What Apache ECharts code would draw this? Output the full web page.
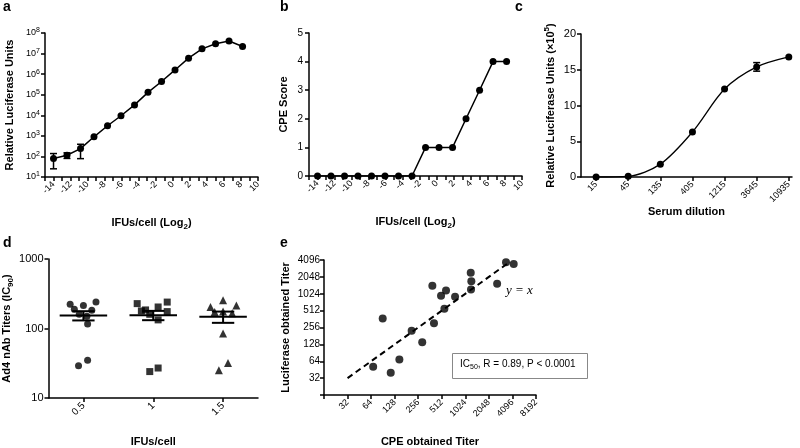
<!DOCTYPE html>
<html>
<head>
<meta charset="utf-8">
<script src="https://cdn.jsdelivr.net/npm/echarts@6/dist/echarts.min.js"></script>
<style>
  html, body { margin: 0; background: #fff; }
  #chart { width: 800px; height: 448px; }
</style>
</head>
<body>
<div id="chart"></div>
<script>
// a, b: IFUs/cell (log2), 3-fold dilution steps
const ifuLog2 = [-14, -12.42, -10.83, -9.25, -7.66, -6.08, -4.49, -2.91, -1.32, 0.26, 1.85, 3.43, 5.02, 6.60, 8.19];
const lucUnits = [80, 114, 240, 900, 3100, 9500, 32000, 130000, 440000, 1.6e6, 6e6, 1.7e7, 3e7, 4.1e7, 2.2e7];
const lucErrLow = [25, 80, 78];
const lucErrHigh = [138, 150, 390];
const cpeScore = [0, 0, 0, 0, 0, 0, 0, 0, 1, 1, 1, 2, 3, 4, 4];

// c: serum dilution
const dilutionLabels = ['15', '45', '135', '405', '1215', '3645', '10935'];
const serumLuc = [0, 0.1, 1.8, 6.3, 12.3, 15.4, 16.8];
const serumErr = [0, 0, 0, 0, 0, 0.6, 0];

// d: nAb titers per IFUs/cell group (x = group index + jitter)
const ifuGroups = ['0.5', '1', '1.5'];
const titer05 = [223, 189, 215, 240, 183, 160, 150, 116, 29, 35];
const jitter05 = [-0.19, -0.13, 0.0, 0.18, 0.12, -0.06, 0.05, 0.06, -0.07, 0.06];
const titer1 = [228, 179, 185, 204, 240, 175, 160, 133, 24, 27];
const jitter1 = [-0.23, -0.17, -0.11, 0.07, 0.2, 0.2, -0.05, 0.07, -0.05, 0.07];
const titer15 = [204, 256, 215, 173, 166, 175, 85, 32, 25];
const jitter15 = [-0.18, 0.0, 0.19, -0.12, 0.13, 0.0, 0.0, 0.07, -0.06];

// e: CPE vs luciferase titers
const cpeTiter = [68, 90, 114, 147, 211, 288, 388, 407, 501, 553, 580, 757, 1200, 1222, 1210, 2610, 3390, 4250];
const lucTiter = [51, 371, 40, 69, 224, 139, 1424, 304, 946, 551, 1169, 909, 2418, 1711, 1215, 1540, 3718, 3490];
const identityExtent = [32, 3600];

const font = 'Liberation Sans';
const axisLine = { onZero: false, lineStyle: { color: '#000', width: 1.5 } };
const axisTick = { length: 4, lineStyle: { color: '#000', width: 1.5 } };
const lbl = { color: '#000', fontFamily: font, fontSize: 10 };
const nameStyle = { color: '#000', fontFamily: font, fontSize: 11, fontWeight: 'bold',
  rich: {
    sub: { fontFamily: font, fontSize: 8, fontWeight: 'bold', verticalAlign: 'bottom', lineHeight: 16 },
    sup: { fontFamily: font, fontSize: 8, fontWeight: 'bold', verticalAlign: 'top', lineHeight: 16 }
  }
};

const sem = (arr) => {
  const m = arr.reduce((s, v) => s + v, 0) / arr.length;
  const sd = Math.sqrt(arr.reduce((s, v) => s + (v - m) * (v - m), 0) / (arr.length - 1));
  return [m, sd / Math.sqrt(arr.length)];
};

function errorBar(cap) {
  return function (params, api) {
    const x = api.value(0);
    const lo = api.coord([x, api.value(1)]);
    const hi = api.coord([x, api.value(2)]);
    const st = { stroke: '#000', lineWidth: 1.5 };
    return { type: 'group', children: [
      { type: 'line', shape: { x1: lo[0], y1: lo[1], x2: hi[0], y2: hi[1] }, style: st },
      { type: 'line', shape: { x1: lo[0] - cap, y1: lo[1], x2: lo[0] + cap, y2: lo[1] }, style: st },
      { type: 'line', shape: { x1: hi[0] - cap, y1: hi[1], x2: hi[0] + cap, y2: hi[1] }, style: st }
    ] };
  };
}

// mean line (wide) + SEM whiskers (narrow), widths in axis units
function meanSem(params, api) {
  const x = api.value(0), m = api.value(1), lo = api.value(2), hi = api.value(3);
  const st = { stroke: '#000', lineWidth: 2 };
  const a = api.coord([x - 0.34, m]), b = api.coord([x + 0.34, m]);
  const c1 = api.coord([x - 0.16, lo]), c2 = api.coord([x + 0.16, lo]);
  const d1 = api.coord([x - 0.16, hi]), d2 = api.coord([x + 0.16, hi]);
  const v1 = api.coord([x, lo]), v2 = api.coord([x, hi]);
  return { type: 'group', children: [
    { type: 'line', shape: { x1: a[0], y1: a[1], x2: b[0], y2: b[1] }, style: st },
    { type: 'line', shape: { x1: c1[0], y1: c1[1], x2: c2[0], y2: c2[1] }, style: st },
    { type: 'line', shape: { x1: d1[0], y1: d1[1], x2: d2[0], y2: d2[1] }, style: st },
    { type: 'line', shape: { x1: v1[0], y1: v1[1], x2: v2[0], y2: v2[1] }, style: st }
  ] };
}

const dGroups = [[titer05, jitter05, 'circle'], [titer1, jitter1, 'rect'], [titer15, jitter15, 'triangle']];
const dStats = dGroups.map(([t], i) => { const [m, s] = sem(t); return [i, m, m - s, m + s]; });

const ifuAxis = (idx) => ({
  type: 'value', gridIndex: idx, min: -15, max: 10, interval: 1,
  axisLine, axisTick, splitLine: { show: false },
  axisLabel: Object.assign({}, lbl, { rotate: 45, fontSize: 9, margin: 6,
    formatter: (v) => (v % 2 === 0 ? String(v) : '') }),
  name: 'IFUs/cell (Log{sub|2})', nameLocation: 'middle', nameGap: 38, nameTextStyle: nameStyle
});

const chart = echarts.init(document.getElementById('chart'));
chart.setOption({
  backgroundColor: '#fff',
  animation: false,
  grid: [
    { left: 45, top: 33, width: 213, height: 144 },
    { left: 309, top: 33, width: 213, height: 143 },
    { left: 581, top: 34, width: 211, height: 143 },
    { left: 47, top: 259, width: 211, height: 141 },
    { left: 324, top: 260, width: 212, height: 141 }
  ],
  xAxis: [
    ifuAxis(0),
    ifuAxis(1),
    {
      type: 'value', gridIndex: 2, min: -0.47, max: 6.1,
      axisLine, splitLine: { show: false },
      axisTick: Object.assign({}, axisTick, { customValues: [0, 1, 2, 3, 4, 5, 6] }),
      axisLabel: Object.assign({}, lbl, { rotate: 45, fontSize: 9, margin: 6,
        customValues: [0, 1, 2, 3, 4, 5, 6], formatter: (v) => dilutionLabels[Math.round(v)] }),
      name: 'Serum dilution', nameLocation: 'middle', nameGap: 22, nameTextStyle: nameStyle
    },
    {
      type: 'value', gridIndex: 3, min: -0.5, max: 2.5,
      axisLine, splitLine: { show: false },
      axisTick: Object.assign({}, axisTick, { customValues: [0, 1, 2] }),
      axisLabel: Object.assign({}, lbl, { rotate: 45, fontSize: 10, margin: 6,
        customValues: [0, 1, 2], formatter: (v) => ifuGroups[Math.round(v)] }),
      name: 'IFUs/cell', nameLocation: 'middle', nameGap: 38, nameTextStyle: nameStyle
    },
    {
      type: 'log', logBase: 2, gridIndex: 4, min: 16, max: 8192,
      axisLine, axisTick, splitLine: { show: false }, minorTick: { show: false },
      axisLabel: Object.assign({}, lbl, { rotate: 45, fontSize: 9, margin: 6,
        formatter: (v) => (v < 20 ? '' : String(Math.round(v))) }),
      name: 'CPE obtained Titer', nameLocation: 'middle', nameGap: 41, nameTextStyle: nameStyle
    }
  ],
  yAxis: [
    {
      type: 'log', gridIndex: 0, min: 10, max: 1e8,
      axisLine, axisTick, splitLine: { show: false },
      axisLabel: Object.assign({}, lbl, { fontSize: 9, margin: 5, lineHeight: 12,
        formatter: (v) => '10{sup|' + Math.round(Math.log10(v)) + '}',
        rich: { sup: { fontFamily: font, fontSize: 7, verticalAlign: 'top', lineHeight: 12 } } }),
      name: 'Relative Luciferase Units', nameLocation: 'middle', nameGap: 30, nameTextStyle: nameStyle
    },
    {
      type: 'value', gridIndex: 1, min: 0, max: 5, interval: 1,
      axisLine, axisTick, splitLine: { show: false },
      axisLabel: Object.assign({}, lbl, { margin: 6 }),
      name: 'CPE Score', nameLocation: 'middle', nameGap: 20, nameTextStyle: nameStyle
    },
    {
      type: 'value', gridIndex: 2, min: 0, max: 20, interval: 5,
      axisLine, axisTick, splitLine: { show: false },
      axisLabel: Object.assign({}, lbl, { fontSize: 11, margin: 5 }),
      name: 'Relative Luciferase Units (×10{sup|5})', nameLocation: 'middle', nameGap: 22, nameTextStyle: nameStyle
    },
    {
      type: 'log', gridIndex: 3, min: 10, max: 1000,
      axisLine, axisTick, splitLine: { show: false },
      axisLabel: Object.assign({}, lbl, { fontSize: 11, margin: 5, formatter: (v) => String(Math.round(v)) }),
      name: 'Ad4 nAb Titers (IC{sub|90})', nameLocation: 'middle', nameGap: 34, nameTextStyle: nameStyle
    },
    {
      type: 'log', logBase: 2, gridIndex: 4, min: 16, max: 4096,
      axisLine, axisTick, splitLine: { show: false }, minorTick: { show: false },
      axisLabel: Object.assign({}, lbl, { fontSize: 10, margin: 4,
        formatter: (v) => (v < 20 ? '' : String(Math.round(v))) }),
      name: 'Luciferase obtained Titer', nameLocation: 'middle', nameGap: 33, nameTextStyle: nameStyle
    }
  ],
  series: [
    {
      type: 'line', xAxisIndex: 0, yAxisIndex: 0,
      data: ifuLog2.map((x, i) => [x, lucUnits[i]]),
      symbol: 'circle', symbolSize: 7, itemStyle: { color: '#000' },
      lineStyle: { color: '#000', width: 1.5 }, z: 3
    },
    {
      type: 'custom', xAxisIndex: 0, yAxisIndex: 0, renderItem: errorBar(3.5),
      data: lucErrLow.map((lo, i) => [ifuLog2[i], lo, lucErrHigh[i]]), z: 2
    },
    {
      type: 'line', xAxisIndex: 1, yAxisIndex: 1,
      data: ifuLog2.map((x, i) => [x, cpeScore[i]]),
      symbol: 'circle', symbolSize: 7, itemStyle: { color: '#000' },
      lineStyle: { color: '#000', width: 1.5 }, z: 3
    },
    {
      type: 'line', xAxisIndex: 2, yAxisIndex: 2,
      data: serumLuc.map((v, i) => [i, v]),
      smooth: 0.3,
      symbol: 'circle', symbolSize: 7, itemStyle: { color: '#000' },
      lineStyle: { color: '#000', width: 1.3 }, z: 3
    },
    {
      type: 'custom', xAxisIndex: 2, yAxisIndex: 2, renderItem: errorBar(3.5),
      data: serumLuc.map((v, i) => [i, v - serumErr[i], v + serumErr[i]]).filter((d, i) => serumErr[i] > 0)
    },
    ...dGroups.map(([t, j, sym], g) => ({
      type: 'scatter', xAxisIndex: 3, yAxisIndex: 3,
      data: t.map((v, i) => [g + j[i], v]),
      symbol: sym, symbolSize: sym === 'triangle' ? 8 : 7, itemStyle: { color: '#000' }
    })),
    {
      type: 'custom', xAxisIndex: 3, yAxisIndex: 3, renderItem: meanSem, data: dStats, z: 3
    },
    {
      type: 'line', xAxisIndex: 4, yAxisIndex: 4,
      data: [[identityExtent[0], identityExtent[0]], [identityExtent[1], identityExtent[1]]],
      symbol: 'none', lineStyle: { color: '#000', width: 2, type: [6, 4] }
    },
    {
      type: 'scatter', xAxisIndex: 4, yAxisIndex: 4,
      data: cpeTiter.map((x, i) => [x, lucTiter[i]]),
      symbol: 'circle', symbolSize: 8, itemStyle: { color: '#000' }
    }
  ],
  graphic: [
    { type: 'text', left: 3, top: 0, style: { text: 'a', font: 'bold 14px Liberation Sans', fill: '#000' } },
    { type: 'text', left: 280, top: 0, style: { text: 'b', font: 'bold 14px Liberation Sans', fill: '#000' } },
    { type: 'text', left: 515, top: 0, style: { text: 'c', font: 'bold 14px Liberation Sans', fill: '#000' } },
    { type: 'text', left: 3, top: 236, style: { text: 'd', font: 'bold 14px Liberation Sans', fill: '#000' } },
    { type: 'text', left: 280, top: 236, style: { text: 'e', font: 'bold 14px Liberation Sans', fill: '#000' } },
    { type: 'text', left: 506, top: 284, style: { text: 'y = x', font: 'italic 13px Liberation Serif', fill: '#000' } },
    { type: 'rect', left: 452, top: 353, shape: { width: 135, height: 25 }, style: { fill: '#fff', stroke: '#888', lineWidth: 1 } },
    { type: 'text', left: 460, top: 359, style: {
      text: 'IC{sub|50}, R = 0.89, P < 0.0001', font: '10px Liberation Sans', fill: '#000',
      rich: { sub: { fontFamily: font, fontSize: 7, verticalAlign: 'bottom', lineHeight: 14 } } } }
  ]
});
</script>
</body>
</html>
